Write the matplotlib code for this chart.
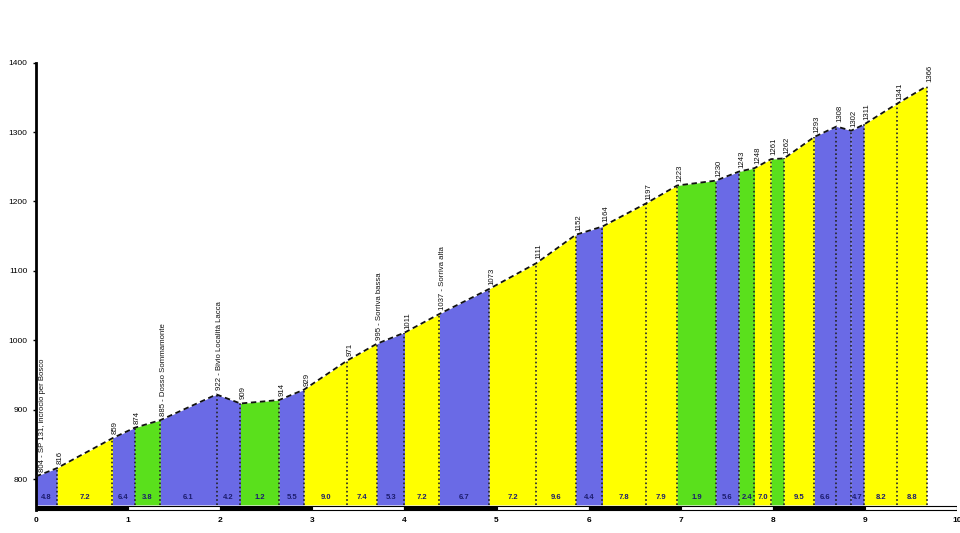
import matplotlib.pyplot as plt
from matplotlib.patches import Rectangle
from matplotlib.transforms import offset_copy

plt.rcParams['font.family'] = ['Liberation Sans', 'DejaVu Sans']

# profile points (km, metres)
km = [0.00, 0.23, 0.83, 1.07, 1.35, 1.96, 2.22, 2.64, 2.91, 3.38,
      3.70, 4.00, 4.38, 4.92, 5.43, 5.86, 6.15, 6.62, 6.96, 7.38,
      7.63, 7.80, 7.98, 8.12, 8.45, 8.69, 8.85, 8.99, 9.35, 9.67]
elev = [804, 816, 859, 874, 885, 922, 909, 914, 929, 971,
        995, 1011, 1038, 1074, 1111, 1152, 1164, 1197, 1223, 1230,
        1243, 1248, 1261, 1262, 1293, 1308, 1302, 1311, 1341, 1366]
point_labels = ["804 - SP 131, incrocio per Bosco", "816", "859", "874",
                "885 - Dosso Sommamonte", "922 - Bivio Località Lacca",
                "909", "914", "929", "971", "995 - Sorriva bassa", "1011",
                "1037 - Sorriva alta", "1073", "1111", "1152", "1164", "1197",
                "1223", "1230", "1243", "1248", "1261", "1262", "1293",
                "1308", "1302", "1311", "1341", "1366"]

# one entry per segment
seg_class = ["b", "y", "b", "g", "b", "b", "g", "b", "y", "y",
             "b", "y", "b", "y", "y", "b", "y", "y", "g", "b",
             "g", "y", "g", "y", "b", "b", "b", "y", "y"]
seg_grade = ["4.8", "7.2", "6.4", "3.8", "6.1", "4.2", "1.2", "5.5", "9.0", "7.4",
             "5.3", "7.2", "6.7", "7.2", "9.6", "4.4", "7.8", "7.9", "1.9", "5.6",
             "2.4", "7.0", "", "9.5", "6.6", "", "4.7", "8.2", "8.8"]

y_ticks = [800, 900, 1000, 1100, 1200, 1300, 1400]
x_ticks = list(range(11))

colors = {"b": "#6a6ae6", "y": "#ffff00", "g": "#5ae01c"}
base = 763

fig = plt.figure(figsize=(9.6, 5.33), dpi=100)
ax = fig.add_axes([0.0375, 0.0385, 0.9595, 0.844])
ax.set_xlim(0, 10)
ax.set_ylim(752, 1400)

for i in range(len(seg_class)):
    xs = km[i:i + 2]
    ys = elev[i:i + 2]
    ax.fill_between(xs, [base, base], ys, color=colors[seg_class[i]],
                    linewidth=0, zorder=1)
    if seg_grade[i]:
        ax.text((xs[0] + xs[1]) / 2, 773, seg_grade[i], ha='center',
                va='center', fontsize=5.5, fontweight='bold',
                color='#1c1c6e', zorder=4)

for x, y in zip(km, elev):
    ax.plot([x, x], [base, y], color='#222222', lw=1.2,
            linestyle=(0, (1, 1.5)), zorder=2)

ax.plot(km, elev, color='#111111', lw=1.3, linestyle=(0, (3, 2)), zorder=3)

shifted = offset_copy(ax.transData, fig=fig, x=3, y=4, units='dots')
for i, (x, y, lab) in enumerate(zip(km, elev, point_labels)):
    ax.text(x, y, lab, rotation=90, ha='left' if i == 0 else 'center',
            va='bottom', fontsize=5.6, color='#111111', zorder=4,
            transform=shifted)

# km scale bar
for k in range(10):
    ax.add_patch(Rectangle((k, 756), 1, 6,
                           facecolor='black' if k % 2 == 0 else 'white',
                           edgecolor='black', lw=0.8, zorder=5))

for s in ['top', 'right', 'bottom']:
    ax.spines[s].set_visible(False)
ax.spines['left'].set_linewidth(2)
ax.spines['left'].set_bounds(756, 1400)

ax.set_yticks(y_ticks)
ax.set_yticklabels([str(v) for v in y_ticks], fontsize=6)
ax.set_xticks(x_ticks)
ax.set_xticklabels([str(v) for v in x_ticks], fontsize=6, fontweight='bold')
ax.tick_params(axis='y', length=2, width=1, pad=4)
ax.tick_params(axis='x', length=0, pad=3)

plt.savefig('out.png', dpi=100)
